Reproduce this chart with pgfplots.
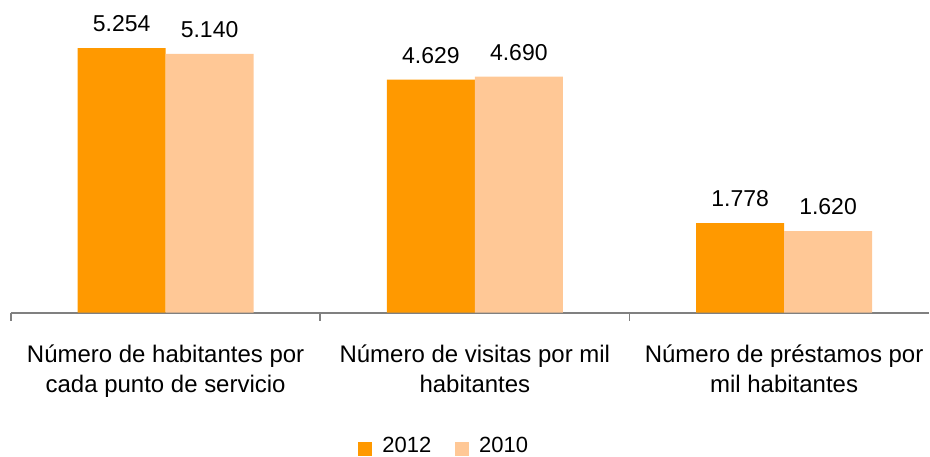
\documentclass[border=0pt]{standalone}
\usepackage{fontspec}
\setmainfont{Liberation Sans}
\usepackage{pgfplots}
\pgfplotsset{compat=1.18}
\definecolor{c2012}{HTML}{FF9900}
\definecolor{c2010}{HTML}{FFC896}
\definecolor{axisgray}{HTML}{808080}

\begin{document}
\begin{tikzpicture}
\begin{axis}[
  scale only axis,
  width=459.5pt, height=156.5pt,
  ybar=0pt, bar width=44pt,
  xmin=-0.5, xmax=2.469,
  ymin=0, ymax=6.21,
  axis x line*=bottom, axis y line=none,
  x axis line style={draw=axisgray, line width=0.8pt, -},
  xtick={0,1,2},
  xticklabels={{Número de habitantes por\\cada punto de servicio},
               {Número de visitas por mil\\habitantes},
               {Número de préstamos por\\mil habitantes}},
  major tick length=0pt,
  extra x ticks={-0.5,0.5,1.5},
  extra x tick labels={},
  extra x tick style={major tick length=4pt, tick align=outside,
                      tick style={draw=axisgray, line width=0.8pt},
                      xticklabel style={inner sep=0pt}},
  xticklabel style={font=\fontsize{12}{15}\selectfont,
                    align=center, yshift=-12.5pt},
  nodes near coords, point meta=explicit symbolic,
  nodes near coords style={font=\fontsize{11.5}{13}\selectfont, yshift=4.5pt},
  legend columns=2,
  legend style={draw=none, at={(0.473,-0.46)}, anchor=south,
                inner sep=0pt, outer sep=0pt, nodes={inner ysep=0.5pt},
                font=\fontsize{11}{13}\selectfont,
                /tikz/every even column/.append style={column sep=10pt}},
  clip=false,
]
\addplot[fill=c2012, draw=none,
  legend image code/.code={\fill[c2012] (0pt,-5pt) rectangle (7pt,2pt);
                           \path (10pt,0pt);}]
  coordinates {(0,5.254)[5.254] (1,4.629)[4.629] (2,1.778)[1.778]};
\addlegendentry{2012}
\addplot[fill=c2010, draw=none,
  legend image code/.code={\fill[c2010] (0pt,-5pt) rectangle (7pt,2pt);
                           \path (10pt,0pt);}]
  coordinates {(0,5.140)[5.140] (1,4.690)[4.690] (2,1.620)[1.620]};
\addlegendentry{2010}
\end{axis}
\path ([xshift=-5.5pt]current axis.south west) (current axis.north east);
\end{tikzpicture}
\end{document}
